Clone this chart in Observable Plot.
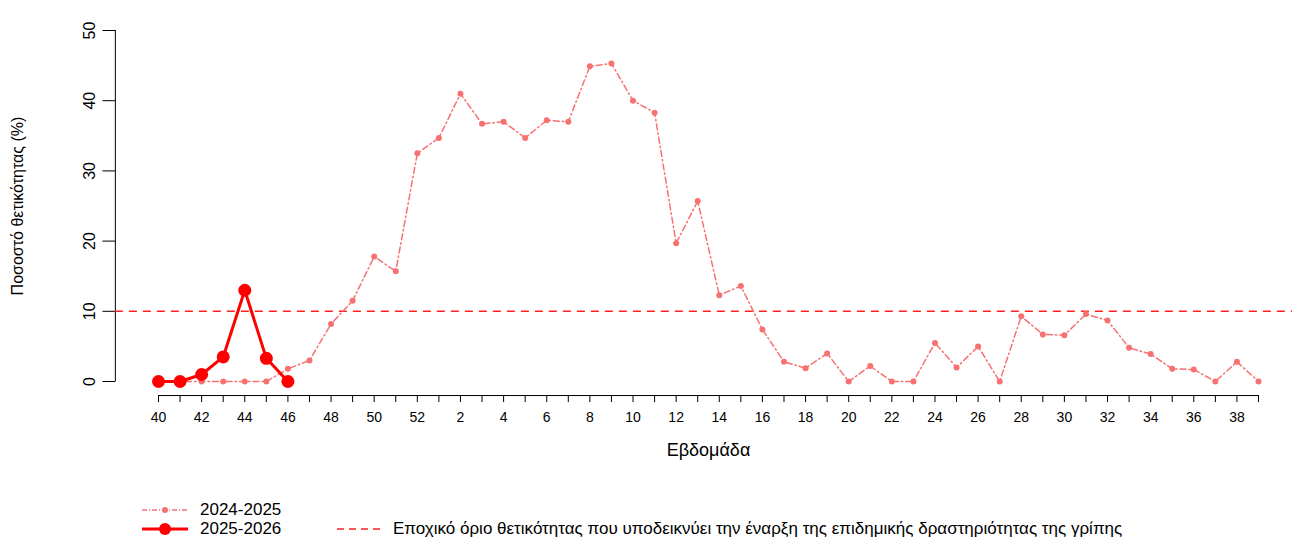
<!DOCTYPE html>
<html><head><meta charset="utf-8">
<script src="https://cdn.jsdelivr.net/npm/d3@7"></script>
<script src="https://cdn.jsdelivr.net/npm/@observablehq/plot@0.6"></script>
<style>
body{margin:0;background:#fff;font-family:"Liberation Sans",Arial,sans-serif;overflow:hidden;}
#leg{position:relative;height:72px;font-size:17px;color:#000;}
.it{position:absolute;display:flex;align-items:center;height:16px;}
</style></head><body>
<div id="chart"></div>
<div id="leg">
 <div class="it" style="left:140px;top:37px"><svg width="50" height="14"><line x1="2" y1="7" x2="48" y2="7" stroke="#f87171" stroke-width="1.3" stroke-dasharray="5,2,1,2"/><circle cx="25" cy="7" r="3" fill="#f87171"/></svg><span style="margin-left:10px">2024-2025</span></div>
 <div class="it" style="left:140px;top:56px"><svg width="50" height="14"><line x1="2" y1="7" x2="48" y2="7" stroke="#ff0000" stroke-width="3"/><circle cx="25" cy="7" r="6" fill="#ff0000"/></svg><span style="margin-left:10px">2025-2026</span></div>
 <div class="it" style="left:335px;top:56px"><svg width="50" height="14"><line x1="2" y1="7" x2="48" y2="7" stroke="#ff2020" stroke-width="1.5" stroke-dasharray="7,5"/></svg><span style="margin-left:8px">Εποχικό όριο θετικότητας που υποδεικνύει την έναρξη της επιδημικής δραστηριότητας της γρίπης</span></div>
</div>
<script>
const weeks = [40,41,42,43,44,45,46,47,48,49,50,51,52,1,2,3,4,5,6,7,8,9,10,11,12,13,14,15,16,17,18,19,20,21,22,23,24,25,26,27,28,29,30,31,32,33,34,35,36,37,38,39];
const s2425 = [0,0,0,0,0,0,1.8,3,8.2,11.5,17.8,15.7,32.5,34.7,41,36.7,37,34.7,37.2,37,44.9,45.3,40,38.3,19.7,25.7,12.3,13.6,7.4,2.8,1.9,4,0,2.2,0,0,5.5,2,5,0,9.3,6.7,6.6,9.6,8.7,4.8,3.9,1.8,1.7,0,2.8,0];
const s2526 = [0,0,1,3.5,13,3.3,0];
const threshold = 10;
const yTicks = [0,10,20,30,40,50];

const d1 = s2425.map((v,i)=>({i,v}));
const d2 = s2526.map((v,i)=>({i,v}));
const idx = weeks.map((w,i)=>i);

const plot = Plot.plot({
  width:1292, height:465,
  marginLeft:0, marginRight:0, marginTop:0, marginBottom:0,
  style:{fontFamily:"Liberation Sans, Arial, sans-serif", fontSize:"14px", overflow:"visible"},
  x:{type:"linear", domain:[0,51], range:[158,1258], axis:null},
  y:{domain:[0,50], range:[381,30], axis:null},
  marks:[
    Plot.ruleX([-2],{y1:0,y2:50,stroke:"#000"}),
    Plot.link(yTicks,{x1:-2.6,x2:-2,y1:d=>d,y2:d=>d,stroke:"#000"}),
    Plot.text(yTicks,{x:-3.2,y:d=>d,text:d=>String(d),rotate:-90,fontSize:16,fill:"#000"}),
    Plot.ruleY([-2],{x1:0,x2:51,stroke:"#000"}),
    Plot.ruleX(idx,{x:d=>d,y1:-2,y2:-3,stroke:"#000"}),
    Plot.text(idx.filter(i=>i%2===0),{x:d=>d,y:-5.2,text:d=>String(weeks[d]),fontSize:14,fill:"#000"}),
    Plot.text(["Εβδομάδα"],{x:25.5,y:-9.8,text:d=>d,fontSize:18,fill:"#000"}),
    Plot.text(["Ποσοστό θετικότητας (%)"],{x:-6.5,y:25,text:d=>d,rotate:-90,fontSize:16,fill:"#000"}),
    Plot.ruleY([threshold],{x1:-2,x2:52.6,stroke:"#ff2020",strokeWidth:1.6,strokeDasharray:"8,6"}),
    Plot.line(d1,{x:"i",y:"v",stroke:"#f87171",strokeWidth:1.5,strokeDasharray:"6,3,1.5,3"}),
    Plot.dot(d1,{x:"i",y:"v",r:3,fill:"#f87171"}),
    Plot.line(d2,{x:"i",y:"v",stroke:"#ff0000",strokeWidth:3}),
    Plot.dot(d2,{x:"i",y:"v",r:6.5,fill:"#ff0000"})
  ]
});
document.getElementById("chart").appendChild(plot);
</script></body></html>
